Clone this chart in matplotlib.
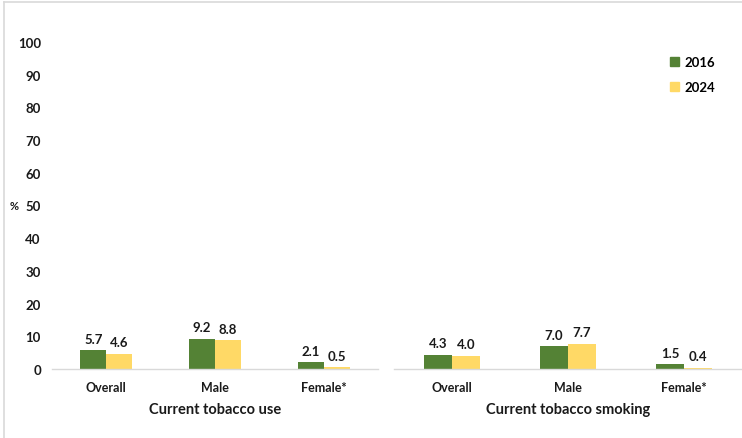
import matplotlib
matplotlib.use("Agg")
import matplotlib.pyplot as plt
import numpy as np
from matplotlib.patches import Rectangle
from matplotlib.lines import Line2D

plt.rcParams['font.family'] = ['Lato', 'DejaVu Sans']

categories = ["Overall", "Male", "Female*"]
groups = ["Current tobacco use", "Current tobacco smoking"]
years = ["2016", "2024"]
use_2016 = [5.7, 9.2, 2.1]
use_2024 = [4.6, 8.8, 0.5]
smoking_2016 = [4.3, 7.0, 1.5]
smoking_2024 = [4.0, 7.7, 0.4]
yticks = list(range(0, 101, 10))

green = "#548235"
yellow = "#FFD966"
grid_grey = "#d9d9d9"
text_col = "#1a1a1a"

W, H = 742, 439
fig = plt.figure(figsize=(W / 100, H / 100), dpi=100)

# outer chart frame (light grey, top and left edges visible)
fig.add_artist(Line2D([4 / W, 1], [1 - 3 / H, 1 - 3 / H], transform=fig.transFigure,
                      color=grid_grey, lw=1.2))
fig.add_artist(Line2D([4 / W, 4 / W], [0, 1 - 3 / H], transform=fig.transFigure,
                      color=grid_grey, lw=1.2))

bottom = 1 - 370 / H
top = 1 - 43 / H
ax1 = fig.add_axes([52 / W, bottom, (378 - 52) / W, top - bottom])
ax2 = fig.add_axes([394 / W, bottom, (742 - 394) / W, top - bottom])

bw = 0.24
x = np.arange(len(categories))
for ax, v16, v24, title in [(ax1, use_2016, use_2024, groups[0]),
                            (ax2, smoking_2016, smoking_2024, groups[1])]:
    b1 = ax.bar(x - bw / 2, v16, bw, color=green, label=years[0])
    b2 = ax.bar(x + bw / 2, v24, bw, color=yellow, label=years[1])
    for bars, vals in [(b1, v16), (b2, v24)]:
        for r, v in zip(bars, vals):
            ax.annotate(f"{v:.1f}", (r.get_x() + r.get_width() / 2, v),
                        xytext=(0, 4), textcoords="offset points",
                        ha="center", va="bottom", fontsize=9.5,
                        fontweight="bold", color=text_col)
    ax.set_xlim(-0.5, len(categories) - 0.5)
    ax.set_ylim(0, 100)
    ax.set_xticks(x)
    ax.set_xticklabels(categories, fontsize=9, fontweight="bold", color=text_col)
    ax.tick_params(axis="x", length=0, pad=9)
    ax.set_xlabel(title, fontsize=10.5, fontweight="bold", color=text_col, labelpad=6)
    for s in ["top", "right", "left"]:
        ax.spines[s].set_visible(False)
    ax.spines["bottom"].set_color(grid_grey)
    ax.spines["bottom"].set_linewidth(1.0)
    ax.set_facecolor("none")

ax1.set_yticks(yticks)
ax1.set_yticklabels([str(t) for t in yticks], fontsize=9.5, fontweight="bold", color=text_col)
ax1.tick_params(axis="y", length=0, pad=8)
ax2.set_yticks([])

fig.text(14 / W, 1 - 207 / H, "%", fontsize=8, fontweight="bold", color=text_col,
         ha="center", va="center")

handles = [Rectangle((0, 0), 1, 1, color=green), Rectangle((0, 0), 1, 1, color=yellow)]
fig.legend(handles, years, loc="upper left", bbox_to_anchor=(658 / W, 1 - 45 / H),
           frameon=False, prop={"weight": "bold", "size": 9.5},
           handlelength=0.7, handleheight=0.7, handletextpad=0.4, labelspacing=1.0)

fig.savefig("out.png", dpi=100)
